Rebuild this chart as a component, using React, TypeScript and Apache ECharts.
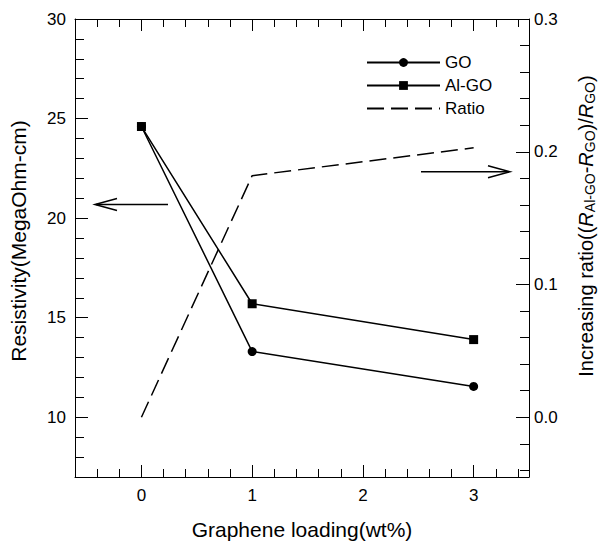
import { useEffect, useRef } from "react";
import * as echarts from "echarts";

// ---- data ----
const loading = [0, 1, 3];
const goResistivity = [24.6, 13.3, 11.55];
const alGoResistivity = [24.6, 15.7, 13.9];
const ratioValues = [0.0, 0.182, 0.203];

// ---- tick labels ----
const xTicks = [0, 1, 2, 3];
const leftTicks = [10, 15, 20, 25, 30];
const rightTicks = [0, 0.1, 0.2, 0.3];

function minorTicks(from: number, to: number, div: number, majorEvery: number) {
  const out: number[] = [];
  for (let k = from; k <= to; k++) {
    if (k % majorEvery !== 0) out.push(k / div);
  }
  return out;
}
const xMinor = minorTicks(-2, 17, 5, 5); // -0.4 .. 3.4
const leftMinor = minorTicks(8, 29, 1, 5);
const rightMinor = minorTicks(-2, 14, 50, 5); // -0.04 .. 0.28

const FONT = "'Liberation Sans', Arial, Helvetica, sans-serif";
const BLACK = "#000";
const axisLineStyle = { color: BLACK, width: 1 };
const TICK_FONT = 17;
const NAME_FONT = 21;

function tickAxis(extra: any) {
  return {
    type: "value",
    splitLine: { show: false },
    axisLine: { show: false, onZero: false, lineStyle: axisLineStyle },
    axisLabel: { show: false },
    ...extra,
  };
}

export default function App() {
  const ref = useRef<HTMLDivElement>(null);
  useEffect(() => {
    if (!ref.current) return;
    const chart = echarts.init(ref.current, null, { renderer: "svg" });
    const xRange = { min: -0.6, max: 3.5 };
    const lRange = { min: 7, max: 30 };
    const rRange = { min: -0.045, max: 0.3 };
    chart.setOption({
      animation: false,
      backgroundColor: "#fff",
      textStyle: { fontFamily: FONT, color: BLACK },
      grid: { left: 73, right: 67, top: 19, bottom: 61, containLabel: false },
      legend: {
        orient: "vertical",
        left: 361,
        top: 49,
        itemWidth: 73,
        itemHeight: 11,
        itemGap: 6,
        textStyle: { fontSize: 17, color: BLACK, fontFamily: FONT },
        data: [
          { name: "GO" },
          { name: "Al-GO" },
          { name: "Ratio", itemStyle: { opacity: 0 } },
        ],
      },
      xAxis: [
        tickAxis({
          position: "bottom",
          ...xRange,
          axisLine: { show: true, onZero: false, lineStyle: axisLineStyle },
          axisTick: { show: true, inside: true, length: 12, customValues: xTicks, lineStyle: axisLineStyle },
          axisLabel: { show: true, customValues: xTicks, margin: 10, color: BLACK, fontSize: TICK_FONT, fontFamily: FONT },
          name: "Graphene loading(wt%)",
          nameLocation: "middle",
          nameGap: 42,
          nameTextStyle: { fontSize: NAME_FONT, color: BLACK, fontFamily: FONT },
        }),
        tickAxis({
          position: "bottom",
          ...xRange,
          axisTick: { show: true, inside: true, length: 8, customValues: xMinor, lineStyle: axisLineStyle },
        }),
        tickAxis({
          position: "top",
          ...xRange,
          axisLine: { show: true, onZero: false, lineStyle: axisLineStyle },
          axisTick: { show: true, inside: true, length: 12, customValues: xTicks, lineStyle: axisLineStyle },
        }),
        tickAxis({
          position: "top",
          ...xRange,
          axisTick: { show: true, inside: true, length: 8, customValues: xMinor, lineStyle: axisLineStyle },
        }),
      ],
      yAxis: [
        tickAxis({
          position: "left",
          ...lRange,
          axisLine: { show: true, onZero: false, lineStyle: axisLineStyle },
          axisTick: { show: true, inside: true, length: 13, customValues: leftTicks, lineStyle: axisLineStyle },
          axisLabel: { show: true, customValues: leftTicks, margin: 9, color: BLACK, fontSize: TICK_FONT, fontFamily: FONT },
          name: "Resistivity(MegaOhm-cm)",
          nameLocation: "middle",
          nameRotate: 90,
          nameGap: 46,
          nameTextStyle: { fontSize: NAME_FONT, color: BLACK, fontFamily: FONT, padding: [0, 0, 0, 14] },
        }),
        tickAxis({
          position: "left",
          ...lRange,
          axisTick: { show: true, inside: true, length: 9, customValues: leftMinor, lineStyle: axisLineStyle },
        }),
        tickAxis({
          position: "right",
          ...rRange,
          axisLine: { show: true, onZero: false, lineStyle: axisLineStyle },
          axisTick: { show: true, inside: true, length: 13, customValues: rightTicks, lineStyle: axisLineStyle },
          axisLabel: {
            show: true,
            customValues: rightTicks,
            margin: 5,
            color: BLACK,
            fontSize: TICK_FONT,
            fontFamily: FONT,
            formatter: (v: number) => v.toFixed(1),
          },
          name: "{n|Increasing ratio((}{i|R}{s|Al-GO}{n|-}{i|R}{s|GO}{n|)/}{i|R}{s|GO}{n|)}",
          nameLocation: "middle",
          nameRotate: 90,
          nameGap: 45,
          nameTextStyle: {
            fontSize: 20,
            color: BLACK,
            fontFamily: FONT,
            padding: [0, 0, 0, 44],
            rich: {
              n: { fontSize: 20, fontFamily: FONT, color: BLACK },
              i: { fontSize: 20, fontFamily: FONT, color: BLACK, fontStyle: "italic" },
              s: { fontSize: 14, fontFamily: FONT, color: BLACK, padding: [9, 0, 0, 0] },
            },
          },
        }),
        tickAxis({
          position: "right",
          ...rRange,
          axisTick: { show: true, inside: true, length: 9, customValues: rightMinor, lineStyle: axisLineStyle },
        }),
      ],
      series: [
        {
          name: "GO",
          type: "line",
          xAxisIndex: 0,
          yAxisIndex: 0,
          data: loading.map((x, i) => [x, goResistivity[i]]),
          symbol: "circle",
          symbolSize: 9,
          itemStyle: { color: BLACK },
          lineStyle: { color: BLACK, width: 1.5 },
          z: 3,
        },
        {
          name: "Al-GO",
          type: "line",
          xAxisIndex: 0,
          yAxisIndex: 0,
          data: loading.map((x, i) => [x, alGoResistivity[i]]),
          symbol: "rect",
          symbolSize: 9,
          itemStyle: { color: BLACK },
          lineStyle: { color: BLACK, width: 1.5 },
          z: 3,
        },
        {
          name: "Ratio",
          type: "line",
          xAxisIndex: 0,
          yAxisIndex: 2,
          data: loading.map((x, i) => [x, ratioValues[i]]),
          symbol: "none",
          itemStyle: { color: BLACK },
          lineStyle: { color: BLACK, width: 1.5, type: [17, 7] },
          z: 2,
        },
      ],
      graphic: [
        {
          type: "polyline",
          shape: { points: [[168, 204.5], [96, 204.5]] },
          style: { stroke: BLACK, lineWidth: 1.5, fill: null },
        },
        {
          type: "polyline",
          shape: { points: [[117, 198.5], [95, 204.5], [117, 210.5]] },
          style: { stroke: BLACK, lineWidth: 1.5, fill: null },
        },
        {
          type: "polyline",
          shape: { points: [[421, 171.7], [509, 171.7]] },
          style: { stroke: BLACK, lineWidth: 1.5, fill: null },
        },
        {
          type: "polyline",
          shape: { points: [[488, 165.7], [510, 171.7], [488, 177.7]] },
          style: { stroke: BLACK, lineWidth: 1.5, fill: null },
        },
      ],
    });
    return () => chart.dispose();
  }, []);
  return <div ref={ref} style={{ width: 605, height: 545, position: "absolute", left: 0, top: 0 }} />;
}
